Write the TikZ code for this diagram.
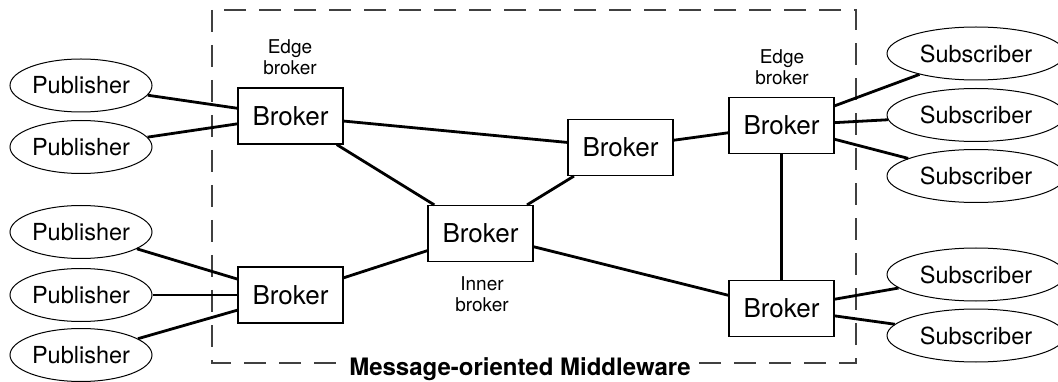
\documentclass[tikz,border=0pt]{standalone}
\usepackage{fontspec}
\setmainfont{TeX Gyre Heros}
\usetikzlibrary{shapes.geometric}

\begin{document}
\begin{tikzpicture}[x=1pt,y=-1pt,
  broker/.style ={draw,line width=1.2pt,minimum width=105pt,minimum height=56pt,
                  inner sep=0pt,font=\fontsize{26}{28}\selectfont},
  client/.style ={draw,ellipse,line width=1pt,minimum height=53pt,inner sep=0pt,
                  font=\fontsize{23.5}{25}\selectfont},
  pub/.style    ={client,minimum width=142pt},
  sub/.style    ={client,minimum width=178pt},
  link/.style   ={line width=2.8pt},
  note/.style   ={align=center,font=\fontsize{19}{21}\selectfont},
  mom/.style    ={black!75,line width=1.3pt,dash pattern=on 22pt off 13pt}
]
  \useasboundingbox (0,0) rectangle (1058,382);

  % ----- middleware frame -----
  \draw[mom] (212,10) rectangle (856,363);
  \node[fill=white,inner xsep=7pt,inner ysep=2pt,
        font=\fontsize{24}{26}\selectfont\bfseries] (title) at (520,369)
        {Message-oriented Middleware};

  % ----- brokers -----
  \node[broker] (tl) at (290.5,116)   {Broker};
  \node[broker] (bl) at (290.5,295)   {Broker};
  \node[broker] (in) at (480.5,233.5) {Broker};
  \node[broker] (mr) at (620.5,147.5) {Broker};
  \node[broker] (tr) at (781.5,125.5) {Broker};
  \node[broker] (br) at (781.5,308.5) {Broker};

  \node[note] (tlnote) at (290,57) {Edge\\broker};
  \node[note] (trnote) at (782,67) {Edge\\broker};
  \node[note] (innote) at (482,294) {Inner\\broker};

  % ----- publishers (left) -----
  \node[pub] (p1) at (81,85.5)  {Publisher};
  \node[pub] (p2) at (81,147)   {Publisher};
  \node[pub] (p3) at (81,232)   {Publisher};
  \node[pub] (p4) at (81,295)   {Publisher};
  \node[pub] (p5) at (81,355)   {Publisher};

  % ----- subscribers (right, cut by the page edge) -----
  \node[sub] (s1) at (976,53.5) {Subscriber};
  \node[sub] (s2) at (976,115)  {Subscriber};
  \node[sub] (s3) at (976,176)  {Subscriber};
  \node[sub] (s4) at (976,274.5){Subscriber};
  \node[sub] (s5) at (976,335.5){Subscriber};

  % ----- links -----
  \foreach \p in {p1,p2} \draw[link] (\p) -- (tl);
  \foreach \p in {p3,p4,p5} \draw[link] (\p) -- (bl);
  \foreach \s in {s1,s2,s3} \draw[link] (tr) -- (\s);
  \foreach \s in {s4,s5} \draw[link] (br) -- (\s);

  \draw[link] (tl) -- (mr);
  \draw[link] (tl) -- (in);
  \draw[link] (bl) -- (in);
  \draw[link] (in) -- (mr);
  \draw[link] (in) -- (br);
  \draw[link] (mr) -- (tr);
  \draw[link] (tr) -- (br);
\end{tikzpicture}
\end{document}
